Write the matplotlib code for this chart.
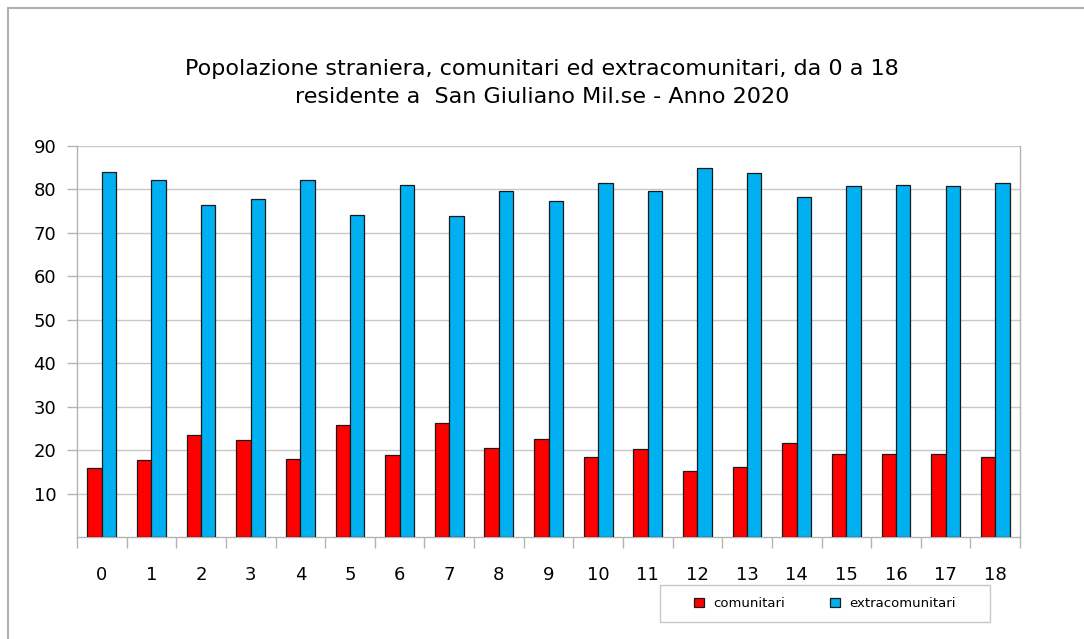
import numpy as np
import matplotlib
matplotlib.use('Agg')
import matplotlib.pyplot as plt
from matplotlib.patches import Rectangle

# Ages 0..18 and the two series
ages = [str(a) for a in range(19)]
comunitari = [16.0, 17.8, 23.5, 22.3, 17.9, 25.8, 18.9, 26.2, 20.4, 22.6,
              18.4, 20.3, 15.1, 16.1, 21.7, 19.2, 19.0, 19.2, 18.4]
extracomunitari = [84.0, 82.2, 76.5, 77.7, 82.1, 74.2, 81.1, 73.8, 79.6, 77.4,
                   81.6, 79.7, 84.9, 83.9, 78.3, 80.8, 81.0, 80.8, 81.6]
y_ticks = [10, 20, 30, 40, 50, 60, 70, 80, 90]

title = ("Popolazione straniera, comunitari ed extracomunitari, da 0 a 18\n"
         "residente a  San Giuliano Mil.se - Anno 2020")

plt.rcParams['font.family'] = ['DejaVu Sans']

W, H = 1084, 639
fig = plt.figure(figsize=(W / 100, H / 100), dpi=100)
ax = fig.add_axes([0.071, 0.1596, 0.870, 0.6119])

x = np.arange(len(ages))
w = 0.29
ax.bar(x - w / 2, comunitari, w, color='#ff0000', edgecolor='#1a1a1a',
       linewidth=0.9, label='comunitari', zorder=3)
ax.bar(x + w / 2, extracomunitari, w, color='#00b0f0', edgecolor='#1a1a1a',
       linewidth=0.9, label='extracomunitari', zorder=3)

ax.set_xlim(-0.5, len(ages) - 0.5)
ax.set_ylim(0, 90)
ax.set_yticks(y_ticks)
ax.set_xticks(x)
ax.set_xticklabels(ages)
ax.set_xticks(np.arange(-0.5, len(ages), 1.0), minor=True)

ax.grid(axis='y', color='#c8c8c8', linewidth=1.0, zorder=0)
for s in ax.spines.values():
    s.set_color('#b4b4b4')
    s.set_linewidth(1.0)
ax.spines['top'].set_visible(False)

ax.tick_params(axis='x', which='major', length=0, pad=21, labelsize=13)
ax.tick_params(axis='x', which='minor', length=8, color='#b4b4b4', width=1.0)
ax.tick_params(axis='y', which='major', length=7, color='#b4b4b4', width=1.0,
               pad=8, labelsize=13)

fig.text(0.5, 1 - 83 / H, title, ha='center', va='center', fontsize=16,
         linespacing=1.5)

# legend without its own frame, boxed by a separate rectangle
fig.legend(loc='center', bbox_to_anchor=(825 / W, 1 - 603.5 / H), ncol=2,
           fontsize=9.5, frameon=False, handlelength=0.75, handleheight=0.75,
           handletextpad=0.7, columnspacing=3.4, borderaxespad=0)
fig.patches.append(Rectangle((660 / W, 1 - 622 / H), 330 / W, 37 / H,
                             transform=fig.transFigure, fill=False,
                             edgecolor='#c8c8c8', linewidth=1.0))

# outer frame of the chart area
fig.patches.append(Rectangle((8 / W, -0.1), 1.2, (H - 8) / H + 0.1,
                             transform=fig.transFigure, fill=False,
                             edgecolor='#b0b0b0', linewidth=1.5))

fig.savefig('out.png', dpi=100)
